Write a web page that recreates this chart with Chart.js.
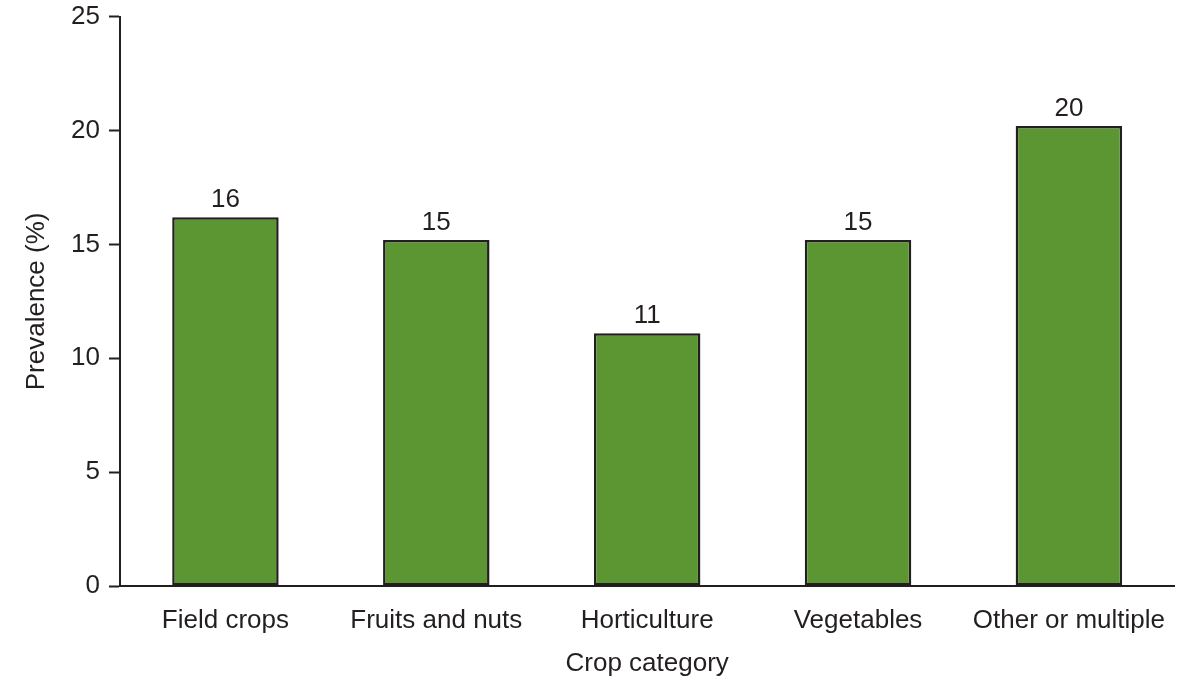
<!DOCTYPE html>
<html>
<head>
<meta charset="utf-8">
<script src="https://cdn.jsdelivr.net/npm/chart.js@4/dist/chart.umd.min.js"></script>
<style>
  html, body { margin: 0; padding: 0; background: #ffffff; }
  #wrap { width: 1185px; height: 679px; position: relative; }
</style>
</head>
<body>
<div id="wrap"><canvas id="chart" width="1185" height="679"></canvas></div>
<script>
// Prevalence by crop category
const categories = ['Field crops', 'Fruits and nuts', 'Horticulture', 'Vegetables', 'Other or multiple'];
const prevalence = [16.2, 15.2, 11.1, 15.2, 20.2];
const yTicks = [0, 5, 10, 15, 20, 25];

const INK = '#231f20';
const FONT = "'Liberation Sans', Arial, Helvetica, sans-serif";

// Rounded value printed above each bar
const valueLabels = {
  id: 'valueLabels',
  afterDatasetsDraw(chart) {
    const ctx = chart.ctx;
    const meta = chart.getDatasetMeta(0);
    ctx.save();
    ctx.fillStyle = INK;
    ctx.font = '26px ' + FONT;
    ctx.textAlign = 'center';
    ctx.textBaseline = 'alphabetic';
    meta.data.forEach((bar, i) => {
      ctx.fillText(String(Math.round(prevalence[i])), bar.x, bar.y - 10);
    });
    ctx.restore();
  }
};

new Chart(document.getElementById('chart'), {
  type: 'bar',
  data: {
    labels: categories,
    datasets: [{
      data: prevalence,
      backgroundColor: '#5b9633',
      borderColor: INK,
      borderWidth: 2.5,
      borderSkipped: false,
      barPercentage: 0.505,
      categoryPercentage: 1.0
    }]
  },
  options: {
    responsive: false,
    animation: false,
    events: [],
    layout: { padding: { top: 12, right: 10, left: 0, bottom: 0 } },
    plugins: {
      legend: { display: false },
      tooltip: { enabled: false }
    },
    scales: {
      x: {
        grid: { display: false, drawTicks: false },
        border: { display: true, color: INK, width: 2 },
        ticks: {
          color: INK,
          font: { family: FONT, size: 26 },
          padding: 19,
          maxRotation: 0,
          autoSkip: false
        },
        title: {
          display: true,
          text: 'Crop category',
          color: INK,
          font: { family: FONT, size: 26 },
          padding: { top: 6, bottom: 0 }
        },
        afterFit(scale) { scale.height = 93; }
      },
      y: {
        min: 0,
        max: 25,
        afterBuildTicks(scale) { scale.ticks = yTicks.map(v => ({ value: v })); },
        grid: {
          display: true,
          drawOnChartArea: false,
          drawTicks: true,
          tickLength: 11,
          tickWidth: 2,
          color: INK
        },
        border: { display: true, color: INK, width: 2 },
        ticks: {
          color: INK,
          font: { family: FONT, size: 26, lineHeight: 0.6 },
          padding: 9
        },
        title: {
          display: true,
          text: 'Prevalence (%)',
          color: INK,
          font: { family: FONT, size: 26 },
          padding: { top: 21, bottom: 0 }
        },
        afterFit(scale) { scale.width = 120; }
      }
    }
  },
  plugins: [valueLabels]
});
</script>
</body>
</html>
